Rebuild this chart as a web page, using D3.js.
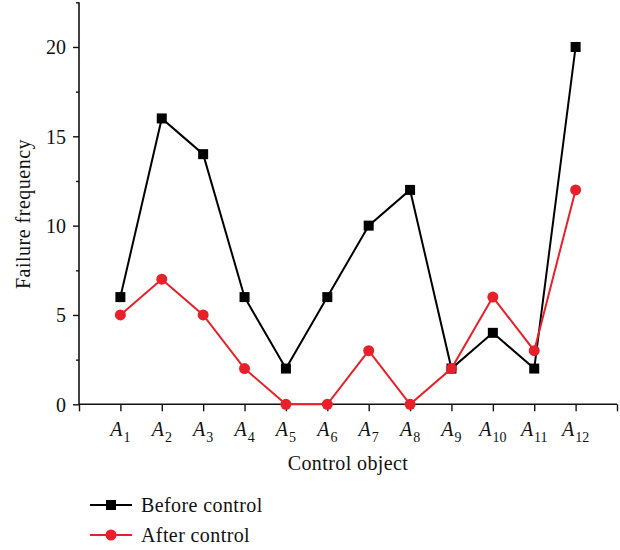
<!DOCTYPE html>
<html><head><meta charset="utf-8">
<script src="https://cdn.jsdelivr.net/npm/d3@7"></script>
<style>body{margin:0;background:#fff}svg{display:block}text{font-family:"Liberation Serif","Times New Roman",serif;fill:#111}</style>
</head><body><svg id="c" width="620" height="550"></svg>
<script>
const categories = ["1","2","3","4","5","6","7","8","9","10","11","12"];
const beforeControl = [6,16,14,6,2,6,10,12,2,4,2,20];
const afterControl = [5,7,5,2,0,0,3,0,2,6,3,12];
const yTicks = [0,5,10,15,20];
const seriesNames = ["Before control","After control"];

const svg = d3.select("#c");
const x = d3.scaleLinear().domain([0,13]).range([79,617]);
const y = d3.scaleLinear().domain([0,22.5]).range([404.3,2.3]);

// axes
const gx = svg.append("g").attr("transform","translate(0,404.3)")
  .call(d3.axisBottom(x).tickValues(d3.range(0,14)).tickSize(7).tickFormat(""));
const gy = svg.append("g").attr("transform","translate(79,0)")
  .call(d3.axisLeft(y).tickValues(yTicks).tickSize(6).tickPadding(7).tickFormat(d3.format("d")));
svg.append("g").attr("transform","translate(79,0)")
  .call(d3.axisLeft(y).tickValues(d3.range(2.5,23,5)).tickSize(3).tickFormat(""))
  .select(".domain").remove();
svg.selectAll(".domain").attr("stroke","#111").attr("stroke-width",1.6);
svg.selectAll(".tick line").attr("stroke","#111").attr("stroke-width",1.4);
gy.selectAll("text").attr("font-size",20).attr("font-family","Liberation Serif").attr("fill","#111").attr("dy","0.34em");
gx.select(".domain").attr("d", `M${x(0)},0H${x(13)}`);
gy.select(".domain").attr("d", `M0,${y(0)}V${y(22.5)}`);

// x tick labels with subscript
const lab = svg.append("g").selectAll("text").data(categories).join("text")
  .attr("x",(d,i)=>x(i+1)).attr("y",436).attr("text-anchor","middle").attr("font-size",20);
lab.append("tspan").attr("font-style","italic").text("A");
lab.append("tspan").attr("font-size",14).attr("dy",5.5).attr("dx",1).text(d=>d);

svg.append("text").attr("x",348).attr("y",470).attr("text-anchor","middle").attr("font-size",20).attr("letter-spacing",0.4).text("Control object");
svg.append("text").attr("transform","translate(30,214) rotate(-90)").attr("text-anchor","middle").attr("font-size",20).attr("letter-spacing",0.5).text("Failure frequency");

const line = d3.line().x((d,i)=>x(i+1)).y(d=>y(d));
svg.append("path").datum(beforeControl).attr("d",line).attr("fill","none").attr("stroke","#000").attr("stroke-width",2);
svg.append("g").selectAll("rect").data(beforeControl).join("rect")
  .attr("x",(d,i)=>x(i+1)-5).attr("y",d=>y(d)-5).attr("width",10).attr("height",10).attr("fill","#000");
svg.append("path").datum(afterControl).attr("d",line).attr("fill","none").attr("stroke","#e8202a").attr("stroke-width",2);
svg.append("g").selectAll("circle").data(afterControl).join("circle")
  .attr("cx",(d,i)=>x(i+1)).attr("cy",d=>y(d)).attr("r",5.5).attr("fill","#e8202a");

// legend
const colors = ["#000","#e8202a"];
seriesNames.forEach((n,i)=>{
  const yy = 505 + i*30;
  svg.append("line").attr("x1",90).attr("x2",132).attr("y1",yy).attr("y2",yy).attr("stroke",colors[i]).attr("stroke-width",2);
  if(i===0) svg.append("rect").attr("x",106).attr("y",yy-5).attr("width",10).attr("height",10).attr("fill",colors[i]);
  else svg.append("circle").attr("cx",111).attr("cy",yy).attr("r",5.5).attr("fill",colors[i]);
  svg.append("text").attr("x",141).attr("y",yy+7).attr("font-size",20).attr("letter-spacing",0.4).text(n);
});
</script></body></html>
